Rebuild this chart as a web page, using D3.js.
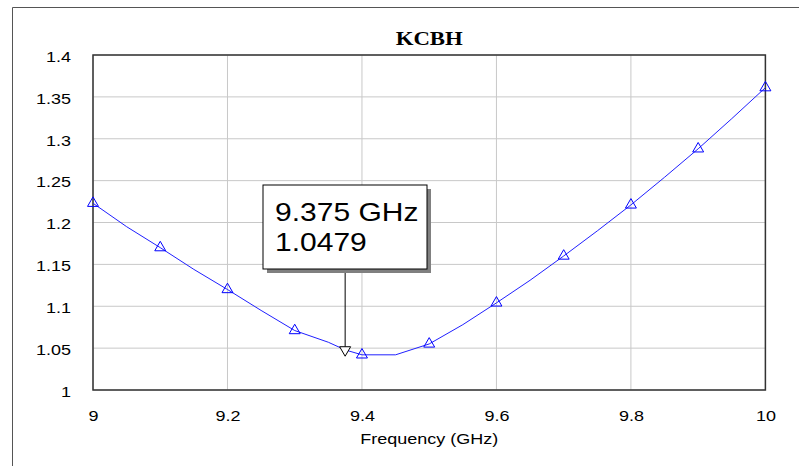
<!DOCTYPE html>
<html>
<head>
<meta charset="utf-8">
<script src="https://cdn.jsdelivr.net/npm/d3@7"></script>
<style>
  body { margin: 0; background: #fff; }
  svg { display: block; }
</style>
</head>
<body>
<div id="chart"></div>
<script>
// values
var freqs = [9, 9.05, 9.1, 9.15, 9.2, 9.25, 9.3, 9.35, 9.375, 9.4, 9.45, 9.5, 9.55, 9.6, 9.65, 9.7, 9.75, 9.8, 9.85, 9.9, 9.95, 10];
var kcbh = [1.223, 1.195, 1.170, 1.144, 1.120, 1.095, 1.071, 1.057, 1.0479, 1.042, 1.042, 1.055, 1.078, 1.104, 1.131, 1.160, 1.190, 1.221, 1.254, 1.288, 1.324, 1.361];
var markerFreqs = [9, 9.1, 9.2, 9.3, 9.4, 9.5, 9.6, 9.7, 9.8, 9.9, 10];
var xTicks = [9, 9.2, 9.4, 9.6, 9.8, 10];
var yTicks = [1, 1.05, 1.1, 1.15, 1.2, 1.25, 1.3, 1.35, 1.4];
var markerPoint = { freq: 9.375, value: 1.0479 };

var svgWidth = 799;
var svgHeight = 466;
var stretch = 1.2; // the original's text is drawn a bit wider than normal

var margin = {
    top: 55,
    right: 33.6,
    bottom: 76,
    left: 93
};

var width = svgWidth - margin.left - margin.right;
var height = svgHeight - margin.top - margin.bottom;

var svg = d3.select("#chart")
    .append("svg")
    .attr("width", svgWidth)
    .attr("height", svgHeight);

// outer frame
svg.append("path")
    .attr("d", "M12.5,470 V7.5 H805")
    .attr("fill", "none")
    .attr("stroke", "#555")
    .attr("stroke-width", 1);

var chartGroup = svg.append("g")
    .attr("transform", `translate(${margin.left}, ${margin.top})`);

var x = d3.scaleLinear().domain([9, 10]).range([0, width]);
var y = d3.scaleLinear().domain([1, 1.4]).range([height, 0]);

// grid
chartGroup.append("g")
    .selectAll("line")
    .data(xTicks)
    .enter()
    .append("line")
    .attr("x1", d => x(d)).attr("x2", d => x(d))
    .attr("y1", 0).attr("y2", height)
    .attr("stroke", "#c8c8c8");

chartGroup.append("g")
    .selectAll("line")
    .data(yTicks)
    .enter()
    .append("line")
    .attr("x1", 0).attr("x2", width)
    .attr("y1", d => y(d)).attr("y2", d => y(d))
    .attr("stroke", "#c8c8c8");

// axes (labels only)
var bottomAxis = d3.axisBottom(x).tickValues(xTicks).tickSize(0).tickPadding(20).tickFormat(d3.format("~g"));
var leftAxis = d3.axisLeft(y).tickValues(yTicks).tickSize(0).tickPadding(22).tickFormat(d3.format("~g"));

var xAxisG = chartGroup.append("g")
    .attr("transform", `translate(0, ${height})`)
    .call(bottomAxis);
var yAxisG = chartGroup.append("g")
    .call(leftAxis);

[xAxisG, yAxisG].forEach(g => {
    g.select(".domain").remove();
    g.selectAll("text")
        .attr("font-family", "Liberation Sans, Arial, sans-serif")
        .attr("font-size", "15px")
        .attr("fill", "#000")
        .attr("transform", `scale(${stretch},1)`);
});
yAxisG.selectAll("text").attr("dy", "0.42em").attr("x", -22 / stretch);

// plot border
chartGroup.append("rect")
    .attr("width", width)
    .attr("height", height)
    .attr("fill", "none")
    .attr("stroke", "#333")
    .attr("stroke-width", 1.5);

// curve
var pts = freqs.map((f, i) => ({ f: f, v: kcbh[i] }));
var line = d3.line().x(d => x(d.f)).y(d => y(d.v));

chartGroup.append("path")
    .datum(pts)
    .attr("d", line)
    .attr("fill", "none")
    .attr("stroke", "#2020ff")
    .attr("stroke-width", 1);

var tri = d3.symbol().type(d3.symbolTriangle).size(52);
chartGroup.selectAll(".mk")
    .data(pts.filter(d => markerFreqs.indexOf(d.f) >= 0))
    .enter()
    .append("path")
    .attr("class", "mk")
    .attr("d", tri)
    .attr("transform", d => `translate(${x(d.f)}, ${y(d.v)})`)
    .attr("fill", "none")
    .attr("stroke", "#0000ff")
    .attr("stroke-width", 1);

// title
chartGroup.append("text")
    .attr("transform", `translate(${width / 2}, -10) scale(${stretch},1)`)
    .attr("text-anchor", "middle")
    .attr("font-family", "Liberation Serif, Times New Roman, serif")
    .attr("font-weight", "bold")
    .attr("font-size", "19px")
    .text("KCBH");

// x axis title
chartGroup.append("text")
    .attr("transform", `translate(${width / 2}, ${height + 54}) scale(${stretch},1)`)
    .attr("text-anchor", "middle")
    .attr("font-family", "Liberation Sans, Arial, sans-serif")
    .attr("font-size", "15px")
    .text("Frequency (GHz)");

// marker callout
var mx = x(markerPoint.freq);
var my = y(markerPoint.value);
var box = { x: 263, y: 185, w: 164, h: 84 };
var bx = box.x - margin.left;
var by = box.y - margin.top;

chartGroup.append("line")
    .attr("x1", mx).attr("x2", mx)
    .attr("y1", by + box.h).attr("y2", my - 3)
    .attr("stroke", "#000");

chartGroup.append("path")
    .attr("d", tri)
    .attr("transform", `translate(${mx}, ${my}) rotate(180)`)
    .attr("fill", "#fff")
    .attr("stroke", "#000");

chartGroup.append("rect")
    .attr("x", bx + 4).attr("y", by + 4)
    .attr("width", box.w).attr("height", box.h)
    .attr("fill", "#808080");
chartGroup.append("rect")
    .attr("x", bx).attr("y", by)
    .attr("width", box.w).attr("height", box.h)
    .attr("fill", "#fff")
    .attr("stroke", "#000")
    .attr("stroke-width", 1);

var calloutText = chartGroup.append("text")
    .attr("transform", `translate(${bx + 12}, ${by}) scale(${stretch},1)`)
    .attr("font-family", "Liberation Sans, Arial, sans-serif")
    .attr("font-size", "25px")
    .attr("fill", "#000");
calloutText.append("tspan")
    .attr("x", 0).attr("y", 36)
    .text(markerPoint.freq + " GHz");
calloutText.append("tspan")
    .attr("x", 0).attr("y", 66)
    .text(markerPoint.value);
</script>
</body>
</html>
